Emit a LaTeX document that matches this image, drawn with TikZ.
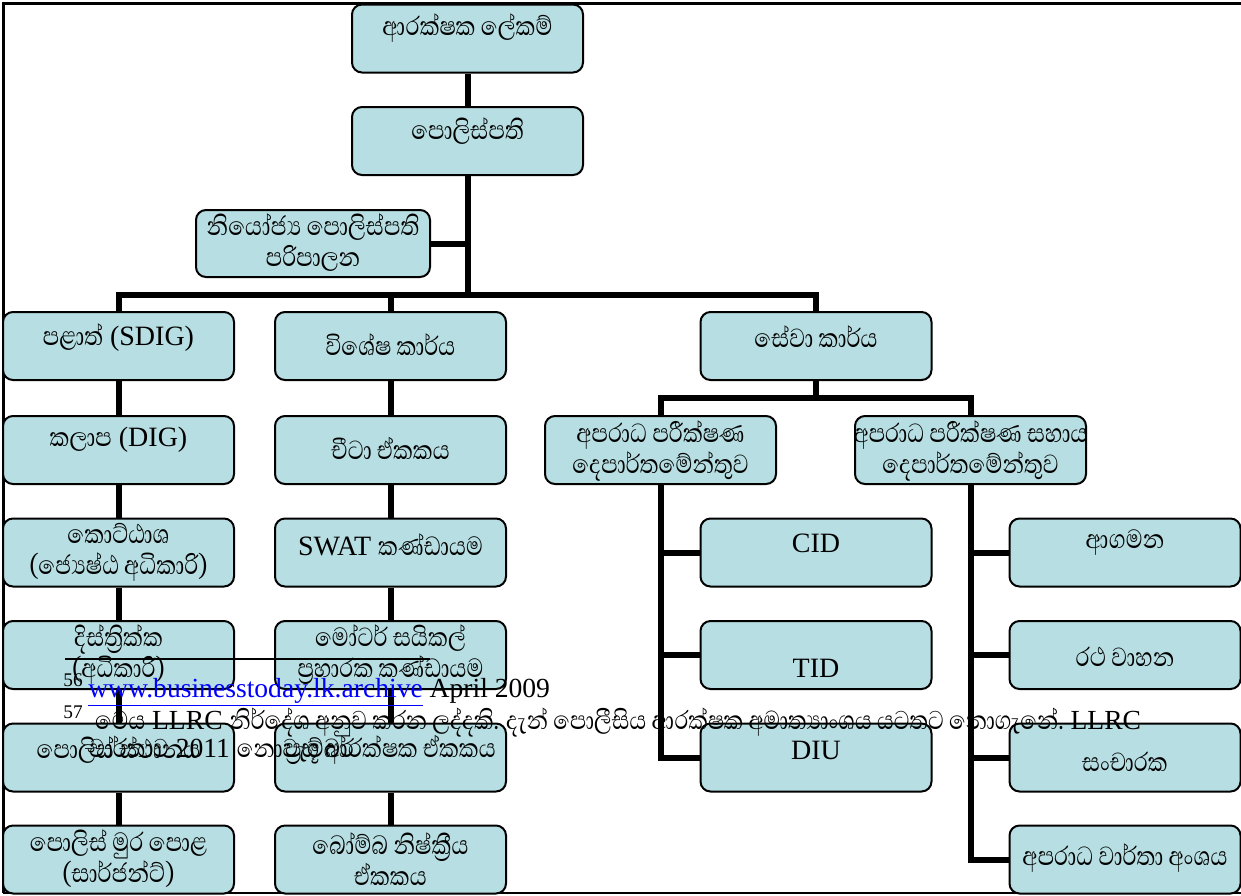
\documentclass[tikz,border=0pt]{standalone}
\usepackage{fontspec}
\usepackage{graphicx}
\setmainfont{Liberation Serif}
\newfontfamily\si[Script=Sinhala]{Abhaya Libre}
\newcommand\sn[1]{\scalebox{1}[1.2]{\si #1}}
\definecolor{boxfill}{RGB}{183,222,226}
\definecolor{linkblue}{RGB}{0,0,255}
\tikzset{
  box/.style={draw=black, line width=1pt, fill=boxfill, rounded corners=5pt, inner sep=0pt,
              minimum width=115.5pt, minimum height=34pt},
  txt/.style={font=\fontsize{14}{15.5}\selectfont, inner sep=0pt, align=center},
  fn/.style={font=\fontsize{13.8}{15}\selectfont, inner sep=0pt},
  conn/.style={line width=3pt, black},
}
\begin{document}
\begin{tikzpicture}[x=0.5pt,y=-0.5pt]
\useasboundingbox (0,0) rectangle (1241,895);
% frame
\draw[line width=1.5pt] (1241,3) -- (3,3) -- (3,893);
\draw[line width=0.8pt] (3,893) -- (1241,893);

% coordinates for buses
\coordinate (bus) at (467.5,295);
\coordinate (sbus) at (816,398);

% boxes
\node[box] (sec) at (467.5,38.5) {};
\node[box] (igp) at (467.5,141) {};
\node[box, minimum width=117pt, minimum height=33.5pt] (dep) at (313,243.5) {};

\node[box] (L1) at (118.5,346) {};
\node[box] (L2) at (118.5,450) {};
\node[box] (L3) at (118.5,552.5) {};
\node[box] (L4) at (118.5,655) {};
\node[box] (L5) at (118.5,757.5) {};
\node[box] (L6) at (118.5,859.5) {};

\node[box] (M1) at (390.5,346) {};
\node[box] (M2) at (390.5,450) {};
\node[box] (M3) at (390.5,552.5) {};
\node[box] (M4) at (390.5,655) {};
\node[box] (M5) at (390.5,757.5) {};
\node[box] (M6) at (390.5,859.5) {};

\node[box] (S) at (816,346) {};
\node[box] (A1) at (660.5,450) {};
\node[box] (A2) at (970.5,450) {};
\node[box] (CID) at (816,552.5) {};
\node[box] (TID) at (816,655) {};
\node[box] (DIU) at (816,757.5) {};
\node[box] (R1) at (1125,552.5) {};
\node[box] (R2) at (1125,655) {};
\node[box] (R3) at (1125,757.5) {};
\node[box] (R4) at (1125,859.5) {};

% connectors
\draw[conn] (sec.south) -- (igp.north);
\draw[conn] (igp.south) -- (bus);
\draw[conn] (dep.east) -- (dep.east -| bus);
\draw[conn] (L1.north) -- (L1.north |- bus) -- (S.north |- bus) -- (S.north);
\draw[conn] (M1.north) -- (M1.north |- bus);
\foreach \a/\b in {L1/L2,L2/L3,L3/L4,L4/L5,L5/L6,M1/M2,M2/M3,M3/M4,M4/M5,M5/M6}
  \draw[conn] (\a.south) -- (\b.north);
\draw[conn] (S.south) -- (S.south |- sbus);
\draw[conn] (A1.north) -- (A1.north |- sbus) -- (A2.north |- sbus) -- (A2.north);
\draw[conn] (A1.south) |- (DIU.west);
\draw[conn] (A1.south |- CID.west) -- (CID.west);
\draw[conn] (A1.south |- TID.west) -- (TID.west);
\draw[conn] (A2.south) |- (R4.west);
\draw[conn] (A2.south |- R1.west) -- (R1.west);
\draw[conn] (A2.south |- R2.west) -- (R2.west);
\draw[conn] (A2.south |- R3.west) -- (R3.west);

% texts
\node[txt] (secT) at (467.5,28) {\sn{ආරක්ෂක ලේකම්}};
\node[txt] (igpT) at (467.5,131) {\sn{පොලිස්පති}};
\node[txt] (depT) at (313,243) {\sn{නියෝජ්^^^^200dය පොලිස්පති}\\\sn{පරිපාලන}};

\node[txt] (L1T) at (118.5,338) {\sn{පළාත්} (SDIG)};
\node[txt] (L2T) at (118.5,440) {\sn{කලාප} (DIG)};
\node[txt] (L3T) at (118.5,552) {\sn{කොට්ඨාශ}\\\sn{(ජ්^^^^200dයෙෂ්ඨ අධිකාරි)}};
\node[txt] (L4T) at (118.5,655) {\sn{දිස්ත්^^^^200dරික්ක}\\\sn{(අධිකාරි)}};
\node[txt] (L5T) at (118.5,750) {\sn{පොලිස් ස්ථානය}};
\node[txt] (L6T) at (118.5,859) {\sn{පොලිස් මුර පොළ}\\\sn{(සාර්ජන්ට්)}};

\node[txt] (M1T) at (390.5,345) {\sn{විශේෂ කාර්ය}};
\node[txt] (M2T) at (390.5,448) {\sn{චීටා ඒකකය}};
\node[txt] (M3T) at (390.5,545) {SWAT \sn{කණ්ඩායම}};
\node[txt] (M4T) at (390.5,655) {\sn{මෝටර් සයිකල්}\\\sn{ප්^^^^200dරහාරක කණ්ඩායම}};
\node[txt] (M5T) at (390.5,750) {\sn{ප්^^^^200dරභූ ආරක්ෂක ඒකකය}};
\node[txt] (M6T) at (390.5,859) {\sn{බෝම්බ නිෂ්ක්^^^^200dරීය}\\\sn{ඒකකය}};

\node[txt] (ST) at (816,337) {\sn{සේවා කාර්ය}};
\node[txt] (A1T) at (660.5,451) {\sn{අපරාධ පරීක්ෂණ}\\\sn{දෙපාර්තමේන්තුව}};
\node[txt] (A2T) at (970.5,451) {\sn{අපරාධ පරීක්ෂණ සහාය}\\\sn{දෙපාර්තමේන්තුව}};
\node[txt] (CIDT) at (816,543) {CID};
\node[txt] (TIDT) at (816,668) {TID};
\node[txt] (DIUT) at (816,750) {DIU};
\node[txt] (R1T) at (1125,543) {\sn{ආගමන}};
\node[txt] (R2T) at (1125,657) {\sn{රථ වාහන}};
\node[txt] (R3T) at (1125,762) {\sn{සංචාරක}};
\node[txt] (R4T) at (1125,858) {\sn{අපරාධ වාර්තා අංශය}};

% footnotes
\coordinate (fnl) at (65,659);
\coordinate (fnr) at (430,659);
\draw[line width=0.8pt] (fnl) -- (fnr);
\node[fn, anchor=base west] (fn56) at (63,697)
  {\textsuperscript{56}\,\textcolor{linkblue}{\underline{www.businesstoday.lk.archive}} April 2009};
\node[fn, anchor=base west] (fn57) at (63,729)
  {\textsuperscript{57}\, \sn{මෙය} LLRC \sn{නිර්දේශ අනුව කරන ලද්දකි. දැන් පොලීසිය ආරක්ෂක අමාත්^^^^200dයාංශය යටතට නොගැනේ.} LLRC};
\node[fn, anchor=base west] (fn57b) at (89,757)
  {\sn{වාර්තාව} 2011 \sn{නොවැම්බර්}};
\end{tikzpicture}
\end{document}
